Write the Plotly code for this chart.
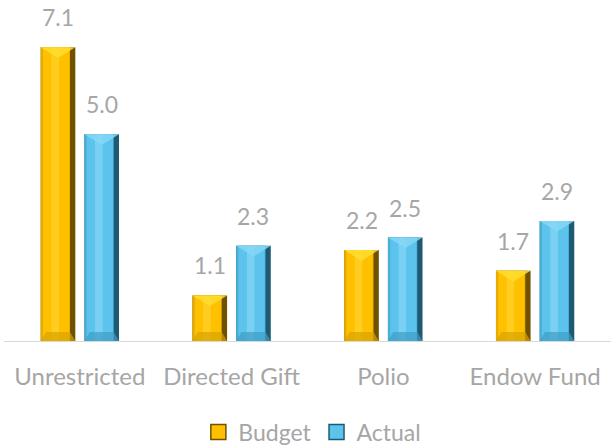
import plotly.graph_objects as go

categories = ["Unrestricted", "Directed Gift", "Polio", "Endow Fund"]
budget = [7.1, 1.1, 2.2, 1.7]
actual = [5.0, 2.3, 2.5, 2.9]
series_names = ["Budget", "Actual"]

FONT = "Lato"
GREY = "#A6A6A6"
BAR_W = 0.228
OFFSETS = {"Budget": -0.258, "Actual": 0.03}
PALETTE = {
    "Budget": {"dark": "#6E5200", "main": "#FFC000", "light": "#FFD633", "left": "#E6AC00", "tri": "#FFDD2E", "bot": "#D9A300"},
    "Actual": {"dark": "#1E5A74", "main": "#5BC3EC", "light": "#8ED8F8", "left": "#4AAFD6", "tri": "#86D6F6", "bot": "#3E9CC4"},
}

xs = list(range(len(categories)))
fig = go.Figure()

for name, vals in zip(series_names, [budget, actual]):
    p = PALETTE[name]
    off = OFFSETS[name]
    # dark outer body (right edge shadow)
    fig.add_trace(go.Bar(x=xs, y=vals, width=BAR_W, offset=off, marker=dict(color=p["dark"], line=dict(width=0)),
                         showlegend=False, hoverinfo="skip"))
    # left edge
    fig.add_trace(go.Bar(x=xs, y=vals, width=BAR_W - 0.035, offset=off, marker=dict(color=p["left"], line=dict(width=0)),
                         showlegend=False, hoverinfo="skip"))
    # main body
    fig.add_trace(go.Bar(x=xs, y=vals, width=BAR_W - 0.055, offset=off + 0.015, marker=dict(color=p["main"], line=dict(width=0)),
                         name=name, showlegend=False))
    # highlight strip
    fig.add_trace(go.Bar(x=xs, y=vals, width=0.05, offset=off + 0.07, marker=dict(color=p["light"], line=dict(width=0), opacity=0.6),
                         showlegend=False, hoverinfo="skip"))
    for xi, v in zip(xs, vals):
        x0 = xi + off
        x1 = xi + off + BAR_W
        # top bevel triangle
        fig.add_trace(go.Scatter(x=[x0, x1, (x0 + x1) / 2, x0], y=[v, v, v - 0.26, v], mode="lines",
                                 fill="toself", fillcolor=p["tri"], line=dict(width=0), showlegend=False,
                                 hoverinfo="skip", opacity=0.85))
        # bottom bevel trapezoid
        fig.add_trace(go.Scatter(x=[x0, x1, x1 - 0.035, x0 + 0.035, x0], y=[0, 0, 0.22, 0.22, 0], mode="lines",
                                 fill="toself", fillcolor=p["bot"], line=dict(width=0), showlegend=False,
                                 hoverinfo="skip", opacity=0.7))
        # value label
        fig.add_annotation(x=xi + off + BAR_W / 2, y=v, text=f"{v:.1f}", showarrow=False, yanchor="bottom",
                           yshift=14, font=dict(family=FONT, size=23, color=GREY))
    # legend entry
    fig.add_trace(go.Scatter(x=[None], y=[None], mode="markers", name=name,
                             marker=dict(symbol="square", size=15, color=p["main"], line=dict(color=p["dark"], width=1.5)),
                             showlegend=True))

fig.update_layout(
    width=611, height=446,
    margin=dict(l=4, r=0, t=10, b=105),
    barmode="overlay",
    plot_bgcolor="white", paper_bgcolor="white",
    font=dict(family=FONT, color=GREY, size=23),
    showlegend=True,
    legend=dict(orientation="h", x=0.508, xanchor="center", yref="container", y=1 - 432 / 446, yanchor="middle",
                font=dict(family=FONT, size=23, color=GREY), itemwidth=30, traceorder="normal",
                itemsizing="trace"),
    xaxis=dict(range=[-0.5, 3.5], tickvals=xs, ticktext=categories, showgrid=False, zeroline=False,
               showline=True, linecolor="#D9D9D9", linewidth=1, ticks="", ticklen=0, ticklabelstandoff=14,
               tickfont=dict(family=FONT, size=24, color=GREY)),
    yaxis=dict(range=[0, 8], visible=False, showgrid=False, zeroline=False),
)

fig.write_html("out.html", config={"displayModeBar": False},
               post_script="document.body.style.margin='0';document.body.style.overflow='hidden';")
